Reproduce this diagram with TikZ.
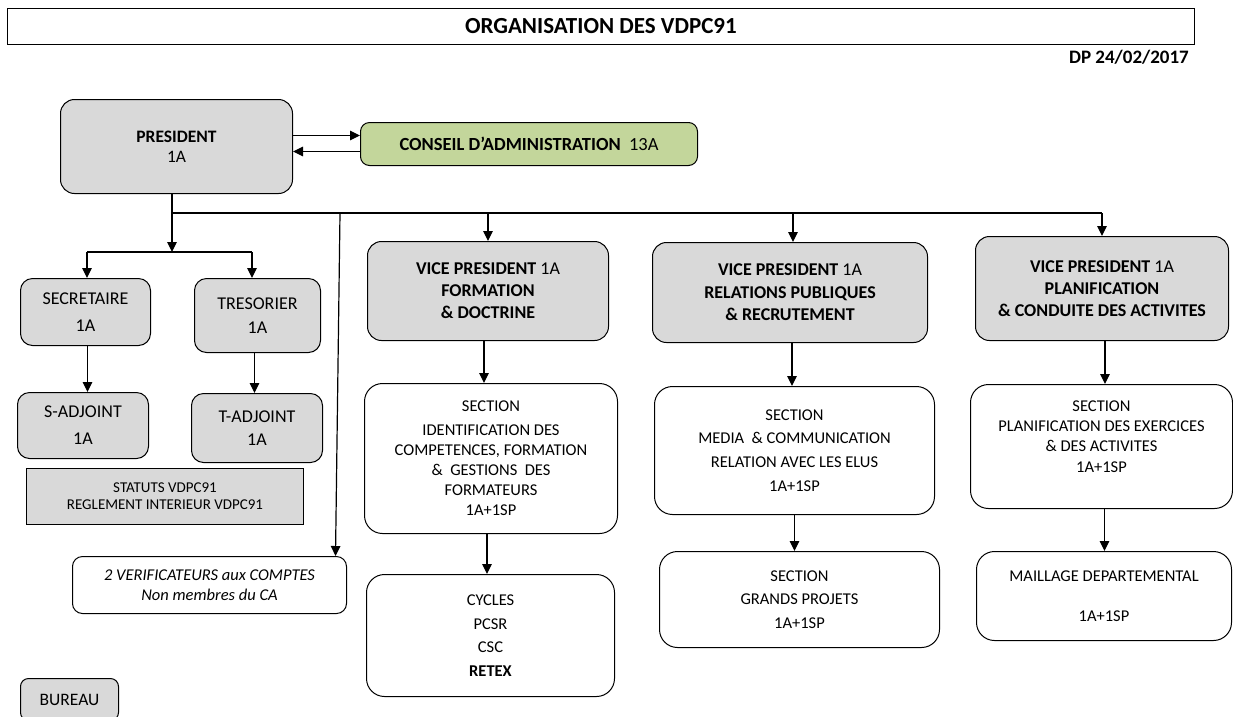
\documentclass[tikz,border=0pt]{standalone}
\usepackage{fontspec}
\setmainfont{Carlito}
\usetikzlibrary{arrows.meta}
\definecolor{boxgray}{HTML}{D9D9D9}
\definecolor{cagreen}{HTML}{C3D69B}
\newcommand\fsz[2]{\fontsize{#1}{#2}\selectfont}
\begin{document}
\begin{tikzpicture}[x=1pt,y=-1pt,
  box/.style={draw, line width=1pt, inner sep=0pt, align=center, anchor=north west},
  gbox/.style={box, fill=boxgray, rounded corners=14pt},
  wbox/.style={box, fill=white, rounded corners=18pt},
  conn/.style={line width=1.1pt},
  arr/.style={line width=1.2pt, -{Triangle[length=10pt,width=9.5pt]}}]
\useasboundingbox (0,0) rectangle (1233,716);
\clip (0,0) rectangle (1233,716);

% title and date
\node[box, minimum width=1187pt, minimum height=36pt, line width=0.8pt, font=\fsz{23}{26}\bfseries] (title) at (7,8) {ORGANISATION DES VDPC91};
\node[anchor=east, inner sep=0pt, font=\fsz{19}{22}\bfseries] (date) at (1189,57) {DP 24/02/2017};

% president and council
\node[gbox, minimum width=232pt, minimum height=94pt, font=\fsz{17.5}{20}] (pres) at (60,99) {\textbf{PRESIDENT}\\1A};
\node[box, fill=cagreen, rounded corners=9pt, minimum width=337pt, minimum height=43pt, font=\fsz{18.5}{21}] (ca) at (360,122) {\textbf{CONSEIL D’ADMINISTRATION}\ \ 13A};

% left branch
\node[gbox, rounded corners=12pt, minimum width=130pt, minimum height=67pt, font=\fsz{18}{27}] (sec) at (20,278) {SECRETAIRE\\1A};
\node[gbox, rounded corners=12pt, minimum width=126pt, minimum height=74pt, font=\fsz{18}{24}] (tres) at (194,278) {TRESORIER\\1A};
\node[gbox, rounded corners=12pt, minimum width=131pt, minimum height=66pt, font=\fsz{18}{27}] (sadj) at (17,392) {S-ADJOINT\\1A};
\node[gbox, rounded corners=12pt, minimum width=131pt, minimum height=69pt, font=\fsz{18}{23}] (tadj) at (191,393) {T-ADJOINT\\1A};
\node[box, fill=boxgray, minimum width=277pt, minimum height=56pt, font=\fsz{15}{17}] (stat) at (26,468) {STATUTS VDPC91\\REGLEMENT INTERIEUR VDPC91};
\node[wbox, rounded corners=10pt, minimum width=274pt, minimum height=57pt, font=\fsz{16.5}{20}\itshape] (verif) at (72,556) {2 VERIFICATEURS aux COMPTES\\Non membres du CA};
\node[gbox, rounded corners=8pt, minimum width=98pt, minimum height=42pt, font=\fsz{17.5}{20}] (bureau) at (20,678) {BUREAU};

% vice presidents
\node[gbox, minimum width=241pt, minimum height=99pt, font=\fsz{18}{22}] (vp1) at (367,241) {\textbf{VICE PRESIDENT} 1A\\\textbf{FORMATION}\\\textbf{\& DOCTRINE}};
\node[gbox, minimum width=275pt, minimum height=100pt, font=\fsz{18}{22.5}] (vp2) at (652,242) {\textbf{VICE PRESIDENT} 1A\\\textbf{RELATIONS PUBLIQUES}\\\textbf{\& RECRUTEMENT}};
\node[gbox, minimum width=253pt, minimum height=104pt, font=\fsz{18}{22}] (vp3) at (975,236) {\textbf{VICE PRESIDENT} 1A\\\textbf{PLANIFICATION}\\\textbf{\& CONDUITE DES ACTIVITES}};

% sections
\node[wbox, minimum width=253pt, minimum height=150pt, font=\fsz{16.5}{20}] (sec1) at (364,383) {SECTION\\[4pt]IDENTIFICATION DES\\COMPETENCES, FORMATION\\\&\ \ GESTIONS\ \ DES\\FORMATEURS\\1A+1SP};
\node[wbox, minimum width=248pt, minimum height=122pt, font=\fsz{16.5}{23.5}] (cyc) at (366,574) {CYCLES\\PCSR\\CSC\\\textbf{RETEX}};
\node[wbox, minimum width=280pt, minimum height=128pt, font=\fsz{16.5}{23.7}] (sec2) at (654,386) {SECTION\\MEDIA\ \ \& COMMUNICATION\\RELATION AVEC LES ELUS\\1A+1SP};
\node[wbox, minimum width=280pt, minimum height=96pt, font=\fsz{16.5}{23.5}] (gp) at (659,551) {SECTION\\GRANDS PROJETS\\1A+1SP};
\node[wbox, minimum width=262pt, minimum height=124pt, font=\fsz{16.5}{20.3}] (sec3) at (970,384) {SECTION\\PLANIFICATION DES EXERCICES\\\& DES ACTIVITES\\1A+1SP\\\mbox{}};
\node[wbox, minimum width=255pt, minimum height=89pt, font=\fsz{16.5}{20}] (mail) at (976,551) {MAILLAGE DEPARTEMENTAL\\[20pt]1A+1SP};

% president <-> council
\draw[arr] ([yshift=11pt]pres.east) -- ([yshift=8.5pt]ca.west);
\draw[arr] ([yshift=-7.5pt]ca.west) -- ([yshift=-5pt]pres.east);

% main bus
\coordinate (b0) at (172,213);
\coordinate (bend) at (vp3.north |- b0);
\coordinate (v0) at (340,213);
\draw[conn] (b0 |- pres.south) -- (b0) -- (bend);
\draw[arr] (bend) -- (vp3.north);
\draw[arr] (vp1.north |- b0) -- (vp1.north);
\draw[arr] ([xshift=3pt]vp2.north |- b0) -- ([xshift=3pt]vp2.north);
\draw[arr] (v0) -- ([xshift=126pt]verif.north);

% secretary / treasurer bus
\coordinate (sb) at (172,252);
\coordinate (sbl) at (87,252);
\coordinate (sbr) at (252,252);
\draw[arr] (b0) -- (sb);
\draw[conn] (sbl) -- (sbr);
\draw[arr] (sbl) -- (sbl |- sec.north);
\draw[arr] (sbr) -- (sbr |- tres.north);
\draw[arr] ([xshift=2pt]sec.south) -- ([xshift=2pt]sec.south |- sadj.north);
\draw[arr] ([xshift=-3pt]tres.south) -- ([xshift=-3pt]tres.south |- tadj.north);

% vertical chains
\draw[arr] ([xshift=-4pt]vp1.south) -- ([xshift=-4pt]vp1.south |- sec1.north);
\draw[arr] ([xshift=-4pt]sec1.south) -- ([xshift=-4pt]sec1.south |- cyc.north);
\draw[arr] ([xshift=2pt]vp2.south) -- ([xshift=2pt]vp2.south |- sec2.north);
\draw[arr] (sec2.south) -- (sec2.south |- gp.north);
\draw[arr] ([xshift=3pt]vp3.south) -- ([xshift=3pt]vp3.south |- sec3.north);
\draw[arr] ([xshift=3pt]sec3.south) -- ([xshift=3pt]sec3.south |- mail.north);
\end{tikzpicture}
\end{document}
